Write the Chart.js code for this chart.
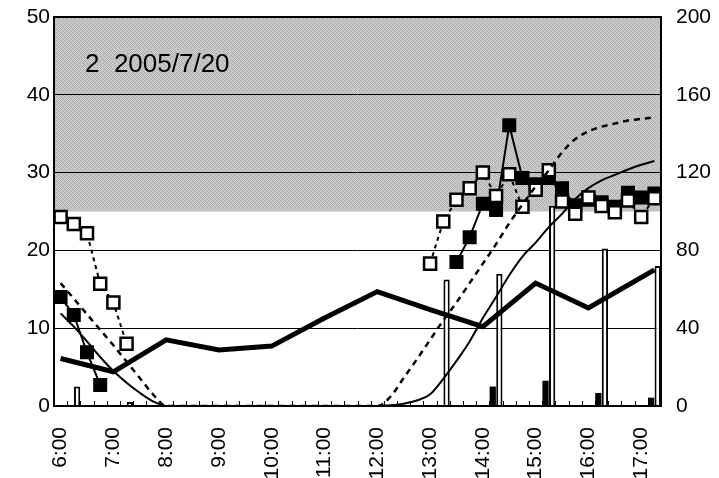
<!DOCTYPE html>
<html lang="ja">
<head>
    <meta charset="UTF-8">
    <title>2005/7/20</title>
    <script src="https://cdn.jsdelivr.net/npm/chart.js"></script>
    <style>
        body { margin: 0; background: #fff; }
    </style>
</head>
<body>
    <canvas id="chart" width="719" height="478"></canvas>
    <script>
        // 15-minute slots, 6:00 .. 17:15
        const timeLabels = [
            '6:00', '6:15', '6:30', '6:45', '7:00', '7:15', '7:30', '7:45',
            '8:00', '8:15', '8:30', '8:45', '9:00', '9:15', '9:30', '9:45',
            '10:00', '10:15', '10:30', '10:45', '11:00', '11:15', '11:30', '11:45',
            '12:00', '12:15', '12:30', '12:45', '13:00', '13:15', '13:30', '13:45',
            '14:00', '14:15', '14:30', '14:45', '15:00', '15:15', '15:30', '15:45',
            '16:00', '16:15', '16:30', '16:45', '17:00', '17:15'
        ];
        const gap = n => Array(n).fill(null);

        // left axis (0-50)
        const openSquares = [24.3, 23.4, 22.2, 15.7, 13.3, 8.0, ...gap(22),
            18.3, 23.7, 26.5, 28.0, 30.0, 27.0, 29.8, 25.6, 27.8, 30.3,
            26.3, 24.7, 26.8, 25.7, 24.9, 26.4, 24.3, 26.7];
        const filledSquares = [14.0, 11.7, 6.9, 2.7, ...gap(26),
            18.5, 21.7, 26.0, 25.2, 36.1, 29.3, 28.5, 29.3,
            28.0, 25.8, 26.5, 26.2, 25.6, 27.4, 26.8, 27.3];
        const dashedCurve = [15.8, 13.8, 11.8, 9.8, 7.8, 5.7, 3.6, 1.5, 0,
            0, 0, 0, 0, 0, 0, 0, 0, 0, 0, 0, 0, 0, 0, 0, 0,
            1.2, 3.6, 6.0, 8.5, 11.0, 13.3, 15.8, 18.3, 20.8, 23.5, 25.9,
            28.2, 30.3, 32.6, 34.3, 35.3, 35.9, 36.3, 36.7, 36.9, 37.1];
        const thinCurve = [11.9, 10.2, 8.3, 6.3, 4.5, 3.0, 1.7, 0.6, 0,
            0, 0, 0, 0, 0, 0, 0, 0, 0, 0, 0, 0, 0, 0, 0, 0,
            0.1, 0.3, 0.7, 1.5, 3.5, 5.8, 8.3, 11.3, 14.0, 16.8, 19.2,
            21.0, 23.0, 24.7, 26.6, 28.0, 29.0, 29.7, 30.4, 31.0, 31.5];
        const thickTimes  = ['6:00', '7:00', '8:00', '9:00', '10:00', '11:00', '12:00', '13:00', '14:00', '15:00', '16:00', '17:15'];
        const thickValues = [6.1, 4.4, 8.5, 7.2, 7.7, 11.3, 14.7, 12.4, 10.2, 15.8, 12.6, 17.5];

        // right axis (0-200)
        const whiteBarTimes  = ['6:15', '7:15', '13:15', '14:15', '15:15', '16:15', '17:15'];
        const whiteBarValues = [10, 2, 65, 68, 103, 81, 72];
        const blackBarTimes  = ['14:15', '15:15', '16:15', '17:15'];
        const blackBarValues = [10, 13, 6.7, 4.3];

        const leftTicks = { min: 0, max: 50, step: 10 };
        const rightTicks = { min: 0, max: 200, step: 40 };
        const bandFrom = 25;
        const chartNote = '2  2005/7/20';

        function place(times, values) {
            const out = gap(timeLabels.length);
            times.forEach((t, k) => { out[timeLabels.indexOf(t)] = values[k]; });
            return out;
        }

        Chart.defaults.font.family = '"Liberation Sans", Arial, sans-serif';
        Chart.defaults.color = '#000';

        function stipple(ctx) {
            const c = document.createElement('canvas');
            c.width = 4; c.height = 4;
            const g = c.getContext('2d');
            const shades = [180, 206, 190, 200, 198, 176, 208, 186, 188, 202, 178, 204, 208, 192, 198, 174];
            shades.forEach((s, k) => {
                g.fillStyle = `rgb(${s},${s},${s})`;
                g.fillRect(k % 4, Math.floor(k / 4), 1, 1);
            });
            return ctx.createPattern(c, 'repeat');
        }

        // fixed axis boxes so the plot sits where the original does
        const fixBox = size => s => {
            if (s.isHorizontal()) { s.height = size; } else { s.width = size; }
            s.paddingTop = 0;
            s.paddingBottom = 0;
        };

        const decor = {
            id: 'decor',
            beforeDraw(chart) {
                const { ctx, chartArea: a, scales: { y } } = chart;
                const top = y.getPixelForValue(leftTicks.max);
                const bot = y.getPixelForValue(bandFrom);
                ctx.save();
                ctx.fillStyle = stipple(ctx);
                ctx.fillRect(a.left, top, a.right - a.left, bot - top);
                ctx.restore();
            },
            afterDraw(chart) {
                const { ctx, chartArea: a, scales: { x } } = chart;
                ctx.save();
                // inner tick marks between the slots
                ctx.strokeStyle = '#000';
                ctx.lineWidth = 1;
                ctx.beginPath();
                for (let i = 1; i < timeLabels.length; i++) {
                    const px = Math.round(x.getPixelForValue(i - 0.5)) + 0.5;
                    ctx.moveTo(px, a.bottom);
                    ctx.lineTo(px, a.bottom - 5);
                }
                ctx.stroke();
                // frame
                ctx.lineWidth = 2;
                ctx.strokeRect(a.left, a.top, a.right - a.left, a.bottom - a.top);
                // note
                ctx.fillStyle = '#000';
                ctx.font = '26px "Liberation Sans", Arial, sans-serif';
                ctx.textBaseline = 'alphabetic';
                ctx.fillText(chartNote, 85, 72);
                ctx.restore();
            }
        };

        const ctx = document.getElementById('chart').getContext('2d');
        new Chart(ctx, {
            type: 'bar',
            data: {
                labels: timeLabels,
                datasets: [
                    {
                        type: 'line', data: dashedCurve, yAxisID: 'y', order: 0,
                        borderColor: '#000', borderWidth: 2.5, borderDash: [6, 5],
                        pointRadius: 0, cubicInterpolationMode: 'monotone'
                    },
                    {
                        type: 'line', data: openSquares, yAxisID: 'y', order: 1,
                        borderColor: '#000', borderWidth: 2, borderDash: [4, 4],
                        pointStyle: 'rect', pointRadius: 8.5, pointBorderWidth: 2.5,
                        pointBackgroundColor: '#fff', pointBorderColor: '#000'
                    },
                    {
                        type: 'line', data: filledSquares, yAxisID: 'y', order: 2,
                        borderColor: '#000', borderWidth: 2,
                        pointStyle: 'rect', pointRadius: 8.5, pointBorderWidth: 2,
                        pointBackgroundColor: '#000', pointBorderColor: '#000'
                    },
                    {
                        type: 'line', data: thinCurve, yAxisID: 'y', order: 3,
                        borderColor: '#000', borderWidth: 2,
                        pointRadius: 0, cubicInterpolationMode: 'monotone'
                    },
                    {
                        type: 'line', data: place(thickTimes, thickValues), yAxisID: 'y', order: 4,
                        borderColor: '#000', borderWidth: 5, spanGaps: true,
                        pointRadius: 0, tension: 0
                    },
                    {
                        data: place(blackBarTimes, blackBarValues), yAxisID: 'y1', order: 10,
                        backgroundColor: '#000', borderColor: '#000', borderWidth: 0,
                        categoryPercentage: 1.0, barPercentage: 0.95
                    },
                    {
                        data: place(whiteBarTimes, whiteBarValues), yAxisID: 'y1', order: 11,
                        backgroundColor: '#fff', borderColor: '#000', borderWidth: 2,
                        categoryPercentage: 1.0, barPercentage: 0.95
                    }
                ]
            },
            options: {
                responsive: false,
                animation: false,
                events: [],
                layout: { padding: { top: 17, left: 0, right: 0, bottom: 0 } },
                plugins: { legend: { display: false }, tooltip: { enabled: false } },
                scales: {
                    x: {
                        offset: true,
                        grid: { display: false, drawTicks: false },
                        border: { display: false },
                        ticks: {
                            autoSkip: false, minRotation: 90, maxRotation: 90, padding: 21,
                            font: { size: 21 }, color: '#000',
                            callback: (v, i) => timeLabels[i].endsWith(':00') ? timeLabels[i] : ''
                        },
                        afterFit: fixBox(72)
                    },
                    y: {
                        position: 'left', min: leftTicks.min, max: leftTicks.max,
                        grid: { color: '#000', lineWidth: 1, drawTicks: false },
                        border: { display: false },
                        ticks: { stepSize: leftTicks.step, padding: 4, font: { size: 21 }, color: '#000' },
                        afterFit: fixBox(54)
                    },
                    y1: {
                        position: 'right', min: rightTicks.min, max: rightTicks.max,
                        grid: { display: false, drawTicks: false },
                        border: { display: false },
                        ticks: { stepSize: rightTicks.step, padding: 15, font: { size: 21 }, color: '#000' },
                        afterFit: fixBox(58)
                    }
                }
            },
            plugins: [decor]
        });
    </script>
</body>
</html>
